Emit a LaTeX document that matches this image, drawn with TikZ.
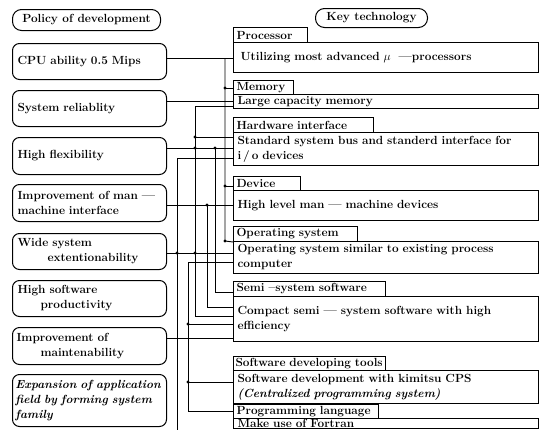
\documentclass[tikz,border=0pt]{standalone}
\usetikzlibrary{calc}
\newcommand\fsz{\fontsize{11.8}{15}\selectfont\bfseries}
\newcommand\fszw{\fontsize{11.8}{15}\selectfont\bfseries\spaceskip=0.5em plus 0.1em}
\begin{document}
\begin{tikzpicture}[x=1pt,y=-1pt,
  lbox/.style={draw, line width=1pt, rounded corners=7pt, anchor=north west,
    minimum width=154pt, text width=144pt, inner xsep=5pt, inner ysep=0pt, align=left, font=\fsz},
  ktab/.style={draw, line width=1pt, anchor=north west, inner xsep=3pt, inner ysep=0pt,
    align=left, font=\fsz},
  kbox/.style={draw, line width=1pt, anchor=north west, minimum width=305pt,
    text width=297pt, inner xsep=4pt, inner ysep=0pt, align=left, font=\fszw},
  pill/.style={draw, line width=1pt, rounded corners=9pt, anchor=north west,
    inner sep=0pt, font=\fsz},
  wire/.style={line width=0.9pt},
  jdot/.style={circle, fill, inner sep=0pt, minimum size=3.2pt}]
\useasboundingbox (0,0) rectangle (552,429);
\clip (0,0) rectangle (552,429);

% headings
\node[pill, minimum width=148pt, minimum height=21pt] (hpol) at (12,9) {Policy of development};
\node[pill, minimum width=112pt, minimum height=19pt] (hkey) at (315,8) {Key technology};

% policy boxes
\node[lbox, minimum height=36pt] (p1) at (12,43) {CPU ability 0.5 Mips};
\node[lbox, minimum height=36pt] (p2) at (12,90) {System reliablity};
\node[lbox, minimum height=37pt] (p3) at (12,137) {High flexibility};
\node[lbox, minimum height=37pt] (p4) at (12,184) {Improvement of man ---\\machine interface};
\node[lbox, minimum height=36pt] (p5) at (12,233) {Wide system\\\hspace*{30pt}extentionability};
\node[lbox, minimum height=36pt] (p6) at (12,280) {High software\\\hspace*{23pt}productivity};
\node[lbox, minimum height=37pt, inner xsep=4pt, text width=146pt] (p7) at (12,327) {Improvement of\\\hspace*{24pt}maintenability};
\node[lbox, minimum height=52pt, inner xsep=3pt, text width=148pt, font=\fsz\itshape] (p8) at (12,374) {Expansion of application\\field by forming system\\family};

% key technology tabs and boxes
\node[ktab, minimum height=15pt, text width=68pt] (k1t) at (233,27) {Processor};
\node[kbox, minimum height=30pt] (k1c) at (233,42) {\hspace*{3pt}Utilizing most advanced $\mu$\ \ ---processors};
\node[ktab, minimum height=14pt, text width=54pt] (k2t) at (233,80) {Memory};
\node[kbox, minimum height=14pt] (k2c) at (233,94) {Large capacity memory};
\node[ktab, minimum height=15pt, text width=134pt] (k3t) at (233,117) {Hardware interface};
\node[kbox, minimum height=33pt] (k3c) at (233,132) {Standard system bus and standerd interface for\\i\,/\,o devices};
\node[ktab, minimum height=14pt, text width=61pt] (k4t) at (233,176) {Device};
\node[kbox, minimum height=30pt] (k4c) at (233,190) {High level man --- machine devices};
\node[ktab, minimum height=15pt, text width=118pt] (k5t) at (233,226) {Operating system};
\node[kbox, minimum height=32pt] (k5c) at (233,241) {Operating system similar to existing process\\computer};
\node[ktab, minimum height=15pt, text width=146pt] (k6t) at (233,281) {Semi --system software};
\node[kbox, minimum height=45pt] (k6c) at (233,296) {Compact semi --- system software with high\\efficiency};
\node[ktab, minimum height=14pt, inner xsep=2pt, text width=148pt] (k7t) at (233,356) {Software developing tools};
\node[kbox, minimum height=33pt] (k7c) at (233,370) {Software development with kimitsu CPS\\\textit{(Centralized programming system)}};
\node[ktab, minimum height=14pt, text width=139pt] (k8t) at (233,404) {Programming language};
\node[kbox, minimum height=10pt] (k8c) at (233,418) {Make use of Fortran};

% direct lines from policies
\draw[wire] (p1.east |- 0,58) -- (k1c.west |- 0,58);
\draw[wire] (p2.east |- 0,101) -- (k2c.west |- 0,101);
\draw[wire] (p3.east |- 0,148) -- (k3c.west |- 0,148);
\draw[wire] (p4.east |- 0,205) -- (k4c.west |- 0,205);
\draw[wire] (p5.east |- 0,253) -- (k5c.west |- 0,253);
\draw[wire] (p7.east |- 0,338) -- (k6c.west |- 0,338);

% bus 1 (x=225)
\coordinate (b1a) at (225,58);
\coordinate (b1b) at (225,88);
\coordinate (b1c) at (225,186);
\coordinate (b1d) at (225,241);
\draw[wire] (b1a) -- (b1d) -- (k5t.south west);
\draw[wire] (b1b) -- (k2t.west |- b1b);
\draw[wire] (b1c) -- (k4t.west |- b1c);
\node[jdot] (j1) at (b1b) {};
\node[jdot] (j2) at (b1c) {};
\node[jdot] (j3) at (b1d) {};

% bus 2 (x=195)
\coordinate (b2a) at (195,106);
\coordinate (b2b) at (195,137);
\coordinate (b2c) at (195,316);
\draw[wire] (k2c.west |- b2a) -- (b2a) -- (b2c) -- (k6c.west |- b2c);
\draw[wire] (b2b) -- (k3c.west |- b2b);
\node[jdot] (j4) at (b2b) {};
\node[jdot] (j5) at (195,148) {};
\node[jdot] (j6) at (195,253) {};

% bus 3 (x=215)
\coordinate (b3a) at (215,148);
\coordinate (b3b) at (215,292);
\draw[wire] (b3a) -- (b3b) -- (k6t.west |- b3b);
\node[jdot] (j7) at (b3a) {};

% bus 4 (x=207)
\coordinate (b4a) at (207,205);
\coordinate (b4b) at (207,307);
\draw[wire] (b4a) -- (b4b) -- (k6c.west |- b4b);
\node[jdot] (j8) at (b4a) {};

% bus 5 (x=177)
\coordinate (b5a) at (177,158);
\coordinate (b5b) at (177,440);
\draw[wire] (k3c.west |- b5a) -- (b5a) -- (b5b);
\node[jdot] (j9) at (177,253) {};

% bus 6 (x=188)
\coordinate (b6a) at (188,262);
\coordinate (b6b) at (188,324);
\coordinate (b6c) at (188,382);
\coordinate (b6d) at (188,411);
\draw[wire] (k5c.west |- b6a) -- (b6a) -- (b6d) -- (k8t.west |- b6d);
\draw[wire] (b6b) -- (k6c.west |- b6b);
\draw[wire] (b6c) -- (k7c.west |- b6c);
\node[jdot] (j10) at (b6b) {};
\node[jdot] (j11) at (b6c) {};
\end{tikzpicture}
\end{document}
